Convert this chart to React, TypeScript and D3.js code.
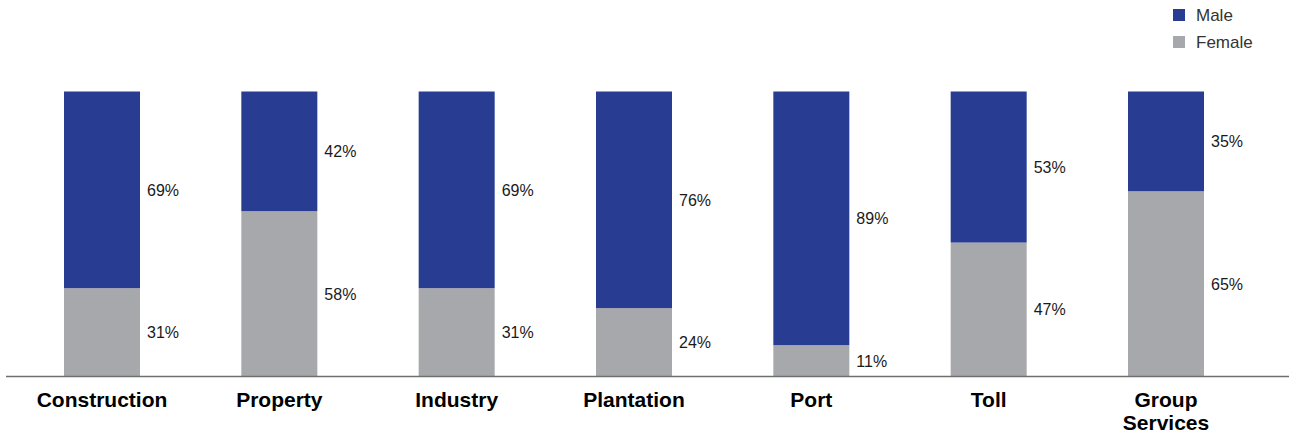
import React from "react";
import * as d3 from "d3";

const categories = ["Construction", "Property", "Industry", "Plantation", "Port", "Toll", "Group Services"];
const maleValues = [69, 42, 69, 76, 89, 53, 35];
const femaleValues = [31, 58, 31, 24, 11, 47, 65];
const seriesNames = ["Male", "Female"];

const W = 1289;
const H = 434;
const MALE = "#283D91";
const FEMALE = "#A7A8AC";
const TEXT = "#1a1a1a";
const FONT = "'Liberation Sans', Arial, Helvetica, sans-serif";

export default function App() {
  const x = d3.scalePoint<string>().domain(categories).range([102, 1166]).padding(0);
  const y = d3.scaleLinear().domain([0, 100]).range([376.5, 91.5]);
  const barW = 76;

  const rows = categories.map((c, i) => ({ c, male: maleValues[i], female: femaleValues[i] }));
  const stack = d3.stack<any>().keys(["female", "male"])(rows);
  const colors: Record<string, string> = { female: FEMALE, male: MALE };

  return (
    <svg width={W} height={H} style={{ position: "absolute", left: 0, top: 0, background: "#fff" }} fontFamily={FONT}>
      {stack.map((layer) => (
        <g key={layer.key}>
          {layer.map((d, i) => {
            const cx = x(categories[i])!;
            const y0 = y(d[0]);
            const y1 = y(d[1]);
            const v = d[1] - d[0];
            return (
              <g key={i}>
                <rect x={cx - barW / 2} y={y1} width={barW} height={y0 - y1} fill={colors[layer.key]} />
                <text x={cx + barW / 2 + 7} y={(y0 + y1) / 2} dy="0.36em" fontSize={16} fill={TEXT}>
                  {v}%
                </text>
              </g>
            );
          })}
        </g>
      ))}
      <line x1={6} x2={W} y1={376.5} y2={376.5} stroke="#6f6f6f" strokeWidth={1.5} />
      {categories.map((c) => {
        const words = c === "Group Services" ? ["Group", "Services"] : [c];
        return (
          <text key={c} x={x(c)!} y={407} textAnchor="middle" fontSize={21} fontWeight="bold" fill="#000">
            {words.map((w, j) => (
              <tspan key={j} x={x(c)!} dy={j === 0 ? 0 : 23}>
                {w}
              </tspan>
            ))}
          </text>
        );
      })}
      {seriesNames.map((s, i) => (
        <g key={s} transform={`translate(1173, ${9 + i * 27})`}>
          <rect x={0} y={0} width={12} height={12} fill={i === 0 ? MALE : FEMALE} />
          <text x={23} y={12} fontSize={17} fill="#333">
            {s}
          </text>
        </g>
      ))}
    </svg>
  );
}
